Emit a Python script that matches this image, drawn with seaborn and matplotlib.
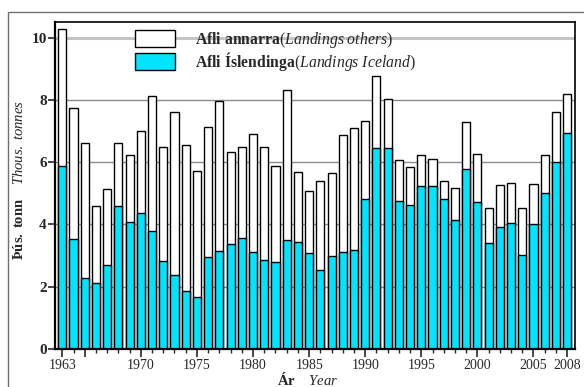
import numpy as np
import pandas as pd
import seaborn as sns
import matplotlib.pyplot as plt
from matplotlib.patches import Patch, Rectangle

# Landings, thousand tonnes, 1963-2008
years = list(range(1963, 2009))
iceland = [5.88, 3.54, 2.27, 2.11, 2.70, 4.60, 4.08, 4.37, 3.80, 2.83,
           2.37, 1.86, 1.68, 2.95, 3.14, 3.37, 3.56, 3.10, 2.86, 2.80,
           3.49, 3.43, 3.08, 2.55, 2.99, 3.10, 3.18, 4.82, 6.46, 6.46,
           4.74, 4.62, 5.24, 5.24, 4.82, 4.13, 5.79, 4.72, 3.40, 3.91,
           4.04, 3.01, 4.01, 5.01, 6.00, 6.93]
others = [4.41, 4.21, 4.34, 2.47, 2.43, 2.03, 2.14, 2.62, 4.31, 3.65,
          5.24, 4.68, 4.05, 4.18, 4.83, 2.96, 2.92, 3.80, 3.62, 3.08,
          4.81, 2.26, 1.99, 2.84, 2.66, 3.77, 3.92, 2.49, 2.29, 1.57,
          1.32, 1.23, 0.98, 0.87, 0.59, 1.04, 1.50, 1.54, 1.12, 1.35,
          1.28, 1.53, 1.28, 1.21, 1.61, 1.25]
tick_years = [1963, 1965, 1970, 1975, 1980, 1985, 1990, 1995, 2000, 2005, 2008]
tick_labels = ['1963', '', '1970', '1975', '1980', '1985', '1990', '1995',
               '2000', '2005', '2008']

df = pd.DataFrame({'year': years, 'iceland': iceland, 'others': others})
df['total'] = df['iceland'] + df['others']

sns.set_style("ticks")
plt.rcParams['font.family'] = ['Liberation Serif', 'DejaVu Serif']
plt.rcParams['mathtext.fontset'] = 'custom'
plt.rcParams['mathtext.rm'] = 'Liberation Serif'
plt.rcParams['mathtext.bf'] = 'Liberation Serif:bold'
plt.rcParams['mathtext.it'] = 'Liberation Serif:italic'

cyan = '#00e4ff'

fig = plt.figure(figsize=(5.84, 3.87), dpi=100)
ax = fig.add_axes([0.0942, 0.0982, 0.8904, 0.845])

# outer frame of the figure
fig.patches.append(Rectangle((0.0137, -0.02), 1.1, 0.989, transform=fig.transFigure,
                             fill=False, edgecolor='#707070', linewidth=1.0))

sns.barplot(data=df, x='year', y='total', native_scale=True, color='white',
            saturation=1, edgecolor='black', linewidth=1.0, width=0.72,
            errorbar=None, ax=ax)
sns.barplot(data=df, x='year', y='iceland', native_scale=True, color=cyan,
            saturation=1, edgecolor='black', linewidth=1.0, width=0.72,
            errorbar=None, ax=ax)

ax.set_xlim(1962.35, 2008.7)
ax.set_ylim(0, 10.5)
ax.set_axisbelow(True)
ax.yaxis.grid(True, color='#8c8c8c', linewidth=1.0)
ax.set_yticks([0, 2, 4, 6, 8, 10])
for val, gl in zip(ax.get_yticks(), ax.get_ygridlines()):
    if val == 10:
        gl.set_color('#c4c4c4')
        gl.set_linewidth(2.2)

ax.set_xticks(tick_years)
ax.set_xticklabels(tick_labels, fontsize=10)
ax.set_xticks(years, minor=True)
ax.tick_params(axis='x', which='major', length=6, width=1.2, direction='out', pad=1)
ax.tick_params(axis='x', which='minor', length=3, width=1.0, direction='out')
ax.tick_params(axis='y', which='major', length=5, width=1.2, direction='out', labelsize=11, pad=1)
for lab in ax.get_yticklabels():
    lab.set_fontweight('bold')

for side in ['top', 'right']:
    ax.spines[side].set_linewidth(1.2)
for side in ['left', 'bottom']:
    ax.spines[side].set_linewidth(1.6)
for sp in ax.spines.values():
    sp.set_color('black')

ax.set_ylabel(r'$\mathbf{Þús.\ tonn}$    $\mathit{Thous.\ tonnes}$', fontsize=10.5)
ax.yaxis.set_label_coords(-0.055, 0.517)
ax.set_xlabel(r'$\mathbf{Ár}$    $\mathit{Year}$', fontsize=10.5)
ax.xaxis.set_label_coords(0.485, -0.068)

handles = [Patch(facecolor='white', edgecolor='black', linewidth=1.0),
           Patch(facecolor=cyan, edgecolor='black', linewidth=1.0)]
labels = [r'$\mathbf{Afli\ annarra}\mathit{(Landings\ others)}$',
          r'$\mathbf{Afli\ Íslendinga}\mathit{(Landings\ Iceland)}$']
ax.legend(handles, labels, loc='upper left', bbox_to_anchor=(0.154, 0.975),
          frameon=False, fontsize=11.3, handlelength=2.55, handleheight=1.27,
          handletextpad=1.27, labelspacing=0, borderpad=0, borderaxespad=0)

fig.savefig('out.png', dpi=100)
